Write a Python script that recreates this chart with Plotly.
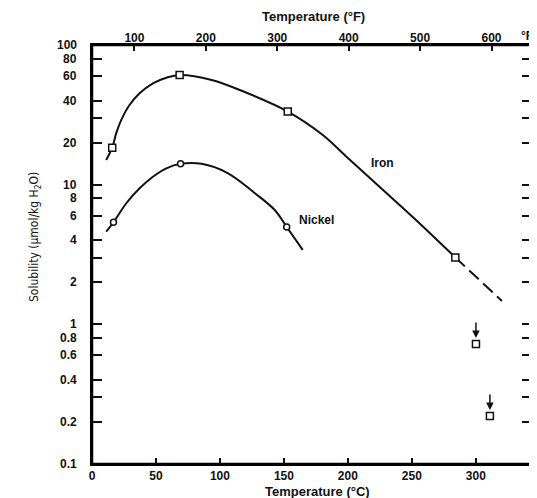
import plotly.graph_objects as go
import math

# ---- data ----
iron_curve_t = [11.1, 15.8, 18.9, 22.8, 29.3, 37.2, 47.6, 58.1, 68.5, 93.5, 119.3, 153.0,
                180.4, 199.1, 224.9, 250.7, 284.0]
iron_curve_s = [15.0, 18.4, 23.3, 29.0, 37.2, 45.1, 53.2, 58.3, 61.0, 56.2, 46.1, 33.4,
                22.7, 15.8, 9.62, 5.87, 3.01]
iron_dash_t = [284.0, 320.4]
iron_dash_s = [3.01, 1.47]
iron_pts_t = [15.8, 68.5, 153.0, 284.0]
iron_pts_s = [18.4, 61.0, 33.4, 3.01]

nickel_curve_t = [11.1, 16.8, 26.8, 37.2, 47.6, 58.1, 69.2, 85.7, 106.0, 127.1, 142.8, 152.2, 164.7]
nickel_curve_s = [4.61, 5.38, 7.36, 9.42, 11.4, 13.1, 14.1, 14.1, 12.1, 8.72, 6.59, 4.98, 3.41]
nickel_pts_t = [16.8, 69.2, 152.2]
nickel_pts_s = [5.38, 14.1, 4.98]

upper_t = [300.1, 311.0]
upper_s = [0.723, 0.221]

x_range_c = [0, 343.9]
x_range_f = [40.6, 656.7]
y_range = [0.1, 100]

y_tickvals = [100, 80, 60, 40, 30, 20, 10, 8, 6, 4, 3, 2, 1, 0.8, 0.6, 0.4, 0.3, 0.2, 0.1]
y_ticktext = ["100", "80", "60", "40", "", "20", "10", "8", "6", "4", "", "2", "1",
              "0.8", "0.6", "0.4", "", "0.2", "0.1"]
x_tickvals = [0, 50, 100, 150, 200, 250, 300]
f_tickvals = [100, 200, 300, 400, 500, 600]

INK = "#111111"
BOLD = dict(family="Liberation Sans, Arial, sans-serif", size=12, color=INK, weight="bold")
TITLE = dict(family="Liberation Sans, Arial, sans-serif", size=13, color=INK, weight="bold")

fig = go.Figure()

# plot frame (box around the plotting area, following the axis ranges)
fx0, fx1 = x_range_c
fy0, fy1 = y_range
fig.add_trace(go.Scatter(x=[fx0, fx1, fx1, fx0, fx0], y=[fy0, fy0, fy1, fy1, fy0],
                         mode="lines", line=dict(color="#000000", width=2.5),
                         cliponaxis=False, hoverinfo="skip", showlegend=False))

fig.add_trace(go.Scatter(x=iron_curve_t, y=iron_curve_s, mode="lines",
                         line=dict(color=INK, width=2, shape="spline", smoothing=1.0),
                         hoverinfo="skip", showlegend=False))
fig.add_trace(go.Scatter(x=iron_dash_t, y=iron_dash_s, mode="lines",
                         line=dict(color=INK, width=2, dash="13px,6px"),
                         hoverinfo="skip", showlegend=False))
fig.add_trace(go.Scatter(x=nickel_curve_t, y=nickel_curve_s, mode="lines",
                         line=dict(color=INK, width=2, shape="spline", smoothing=1.0),
                         hoverinfo="skip", showlegend=False))
fig.add_trace(go.Scatter(x=iron_pts_t, y=iron_pts_s, mode="markers",
                         marker=dict(symbol="square", size=7, color="white",
                                     line=dict(color=INK, width=1.5)),
                         showlegend=False))
fig.add_trace(go.Scatter(x=nickel_pts_t, y=nickel_pts_s, mode="markers",
                         marker=dict(symbol="circle", size=6, color="white",
                                     line=dict(color=INK, width=1.5)),
                         showlegend=False))
fig.add_trace(go.Scatter(x=upper_t, y=upper_s, mode="markers",
                         marker=dict(symbol="square", size=7, color="white",
                                     line=dict(color=INK, width=1.5)),
                         showlegend=False))
# invisible trace to carry the top (°F) axis
fig.add_trace(go.Scatter(x=[f_tickvals[0]], y=[1], xaxis="x2", mode="markers",
                         marker=dict(opacity=0), hoverinfo="skip", showlegend=False))

def paper(px, py):
    return (px - 92) / 440, (464 - py) / 419

annotations = [
    dict(x=227.3, y=math.log10(14.3), xref="x", yref="y", text="Iron", showarrow=False, font=BOLD),
    dict(x=175.7, y=math.log10(5.58), xref="x", yref="y", text="Nickel", showarrow=False, font=BOLD),
]
# y tick labels, set a little away from the axis as in the original
for v, t in zip(y_tickvals, y_ticktext):
    if t:
        annotations.append(dict(x=0, y=math.log10(v), xref="paper", yref="y", xanchor="right",
                                yanchor="middle", xshift=-13, text=t, showarrow=False, font=BOLD))
for (px, py), txt, fnt, ang in [
    ((35, 237), "Solubility (μmol/kg H<sub>2</sub>O)",
     dict(family="Liberation Sans Narrow, DejaVu Sans Condensed, Liberation Sans", size=12, color=INK), -90),
    ((527, 36), "°F", BOLD, 0),
    ((317, 491), "Temperature (°C)", TITLE, 0),
    ((313, 17), "Temperature (°F)", TITLE, 0),
]:
    x, y = paper(px, py)
    annotations.append(dict(x=x, y=y, xref="paper", yref="paper", xanchor="center",
                            yanchor="middle", text=txt, textangle=ang, showarrow=False, font=fnt))
for t, s in zip(upper_t, upper_s):
    annotations.append(dict(x=t, y=math.log10(s), xref="x", yref="y", ax=0, ay=-23,
                            showarrow=True, arrowhead=2, arrowsize=1, arrowwidth=1.5,
                            arrowcolor=INK, standoff=6, text=""))

fig.update_layout(
    template="none",
    width=529, height=490,
    margin=dict(l=84, r=5, t=37, b=34),
    paper_bgcolor="white", plot_bgcolor="white",
    annotations=annotations,
    xaxis=dict(range=x_range_c, tickvals=x_tickvals, ticks="inside", ticklen=6,
               tickwidth=1.5, tickcolor=INK, showline=True, linecolor="black", linewidth=2,
               mirror=True, showgrid=False, zeroline=False, tickfont=BOLD, automargin=False),
    xaxis2=dict(range=x_range_f, overlaying="x", side="top", anchor="y",
                tickvals=f_tickvals, ticks="inside", ticklen=6, tickwidth=1.5, tickcolor=INK,
                showline=False, showgrid=False, zeroline=False, tickfont=BOLD, automargin=False),
    yaxis=dict(type="log", range=[math.log10(y_range[0]), math.log10(y_range[1])],
               tickvals=y_tickvals, showticklabels=False,
               ticks="inside", ticklen=10, tickwidth=1.5, tickcolor=INK,
               showline=True, linecolor="black", linewidth=2, mirror="ticks",
               showgrid=False, zeroline=False, automargin=False),
)

fig.write_html("out.html")
